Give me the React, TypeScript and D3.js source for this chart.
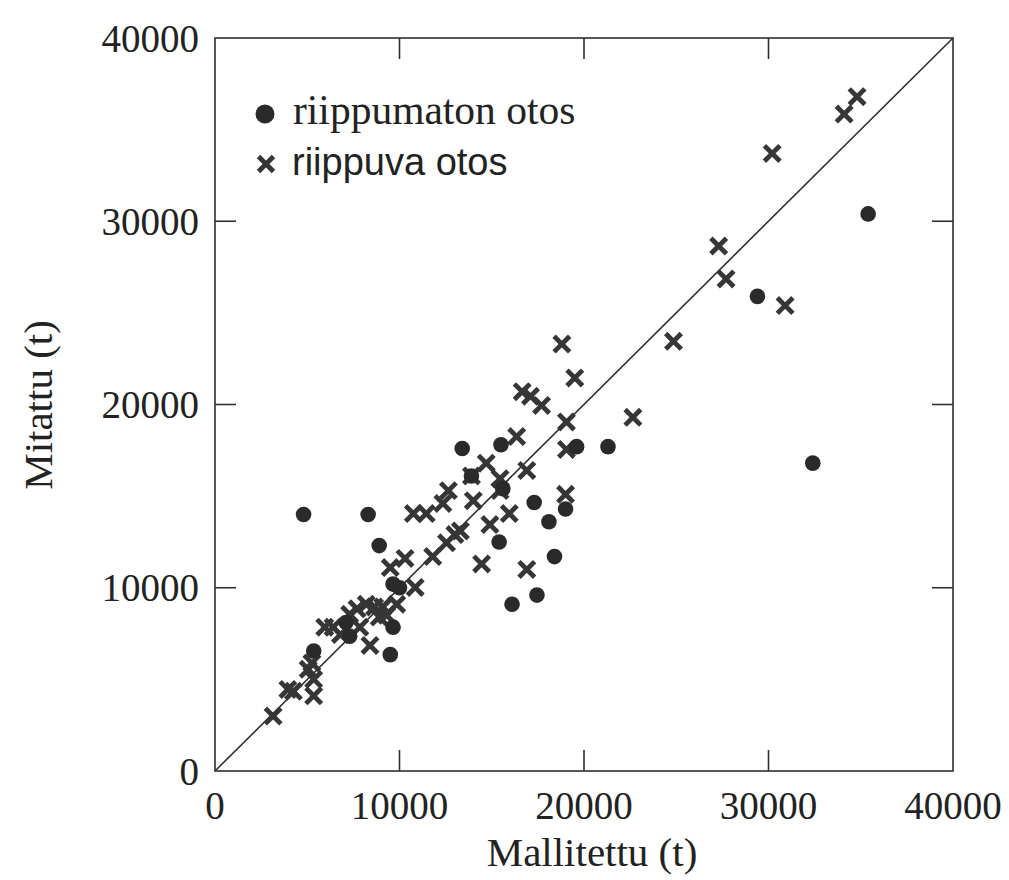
import React from "react";
import * as d3 from "d3";

// riippumaton otos (independent sample): [Mallitettu, Mitattu]
const independentX = [4800, 8300, 8900, 9650, 10000, 9650, 9500, 7100, 7300, 5350, 13400, 15500, 19600, 21300, 13900, 15600, 17300, 19000, 18100, 15400, 18400, 17450, 16100, 29400, 35400, 32400];
const independentY = [14000, 14000, 12300, 10200, 10000, 7850, 6350, 8100, 7350, 6550, 17600, 17800, 17700, 17700, 16100, 15400, 14650, 14300, 13600, 12500, 11700, 9600, 9100, 25900, 30400, 16800];

// riippuva otos (dependent sample)
const dependentX = [34800, 34100, 30200, 27300, 27700, 30900, 24850, 22650, 18800, 19500, 16650, 17100, 17700, 19050, 16350, 19050, 14700, 16900, 13900, 15450, 15450, 12650, 12350, 10750, 11450, 14000, 15950, 14900, 13300, 13000, 12550, 11800, 10300, 9500, 14450, 16900, 10850, 19000, 9850, 9100, 9300, 8900, 8650, 8200, 7700, 7300, 7850, 6400, 5950, 6800, 8400, 5250, 5050, 5350, 4250, 3950, 5350, 3150];
const dependentY = [36800, 35850, 33700, 28650, 26850, 25400, 23450, 19300, 23300, 21450, 20700, 20450, 19950, 19050, 18250, 17550, 16800, 16400, 16100, 15950, 15300, 15300, 14600, 14050, 14050, 14750, 14050, 13450, 13100, 12900, 12450, 11700, 11600, 11100, 11300, 11000, 10020, 15100, 9100, 8950, 8500, 8400, 8950, 9100, 8850, 8550, 7850, 7850, 7850, 7450, 6850, 5900, 5550, 5000, 4350, 4450, 4100, 3000];

const tickValues = [0, 10000, 20000, 30000, 40000];
const tickLabels = ["0", "10000", "20000", "30000", "40000"];
const legendLabels = ["riippumaton otos", "riippuva otos"];
const xTitle = "Mallitettu (t)";
const yTitle = "Mitattu (t)";
const domain = [0, 40000];

const W = 1009;
const H = 880;
const left = 215;
const right = 953;
const top = 38;
const bottom = 771;
const ink = "#303030";
const serif = "'Liberation Serif', 'Times New Roman', serif";
const sans = "'Liberation Sans', Arial, sans-serif";

export default function App() {
  const x = d3.scaleLinear().domain(domain).range([left, right]);
  const y = d3.scaleLinear().domain(domain).range([bottom, top]);
  const tickLen = 21;
  const cs = 7.8;

  const cross = (cx: number, cy: number, s: number, key: any) => (
    <g key={key} stroke="#363636" strokeWidth={4.8}>
      <line x1={cx - s} y1={cy - s} x2={cx + s} y2={cy + s} />
      <line x1={cx - s} y1={cy + s} x2={cx + s} y2={cy - s} />
    </g>
  );

  return (
    <svg width={W} height={H} style={{ position: "absolute", left: 0, top: 0, background: "#fff" }}>
      <rect x={0} y={0} width={W} height={H} fill="#fff" />
      {/* frame */}
      <rect x={left} y={top} width={right - left} height={bottom - top} fill="none" stroke={ink} strokeWidth={1.6} />
      {/* ticks, inward on all sides */}
      {tickValues.slice(1, -1).map((t, i) => (
        <g key={"t" + i} stroke={ink} strokeWidth={1.6}>
          <line x1={x(t)} y1={bottom} x2={x(t)} y2={bottom - tickLen} />
          <line x1={x(t)} y1={top} x2={x(t)} y2={top + tickLen} />
          <line x1={left} y1={y(t)} x2={left + tickLen} y2={y(t)} />
          <line x1={right} y1={y(t)} x2={right - tickLen} y2={y(t)} />
        </g>
      ))}
      {/* tick labels */}
      {tickValues.map((t, i) => (
        <text key={"xl" + i} x={x(t)} y={819} textAnchor="middle" fontFamily={serif} fontSize={39} fill="#222">
          {tickLabels[i]}
        </text>
      ))}
      {tickValues.map((t, i) => (
        <text key={"yl" + i} x={199} y={y(t)} dy="0.35em" textAnchor="end" fontFamily={serif} fontSize={39} fill="#222">
          {tickLabels[i]}
        </text>
      ))}
      {/* titles */}
      <text x={592} y={866} textAnchor="middle" fontFamily={serif} fontSize={41} fill="#222">
        {xTitle}
      </text>
      <text transform={`translate(52,405) rotate(-90)`} textAnchor="middle" fontFamily={serif} fontSize={41} fill="#222">
        {yTitle}
      </text>
      {/* 1:1 line */}
      <line x1={x(0)} y1={y(0)} x2={x(40000)} y2={y(40000)} stroke={ink} strokeWidth={1.6} />
      {/* points */}
      {dependentX.map((v, i) => cross(x(v), y(dependentY[i]), cs, "d" + i))}
      {independentX.map((v, i) => (
        <circle key={"c" + i} cx={x(v)} cy={y(independentY[i])} r={7.8} fill="#2a2a2a" />
      ))}
      {/* legend */}
      <circle cx={265} cy={114} r={9.5} fill="#2a2a2a" />
      <text x={293} y={124} fontFamily={serif} fontSize={41.5} fill="#222">
        {legendLabels[0]}
      </text>
      {cross(266, 164, 7.5, "lg")}
      <text x={292} y={175} fontFamily={sans} fontSize={38} fill="#222">
        {legendLabels[1]}
      </text>
    </svg>
  );
}
